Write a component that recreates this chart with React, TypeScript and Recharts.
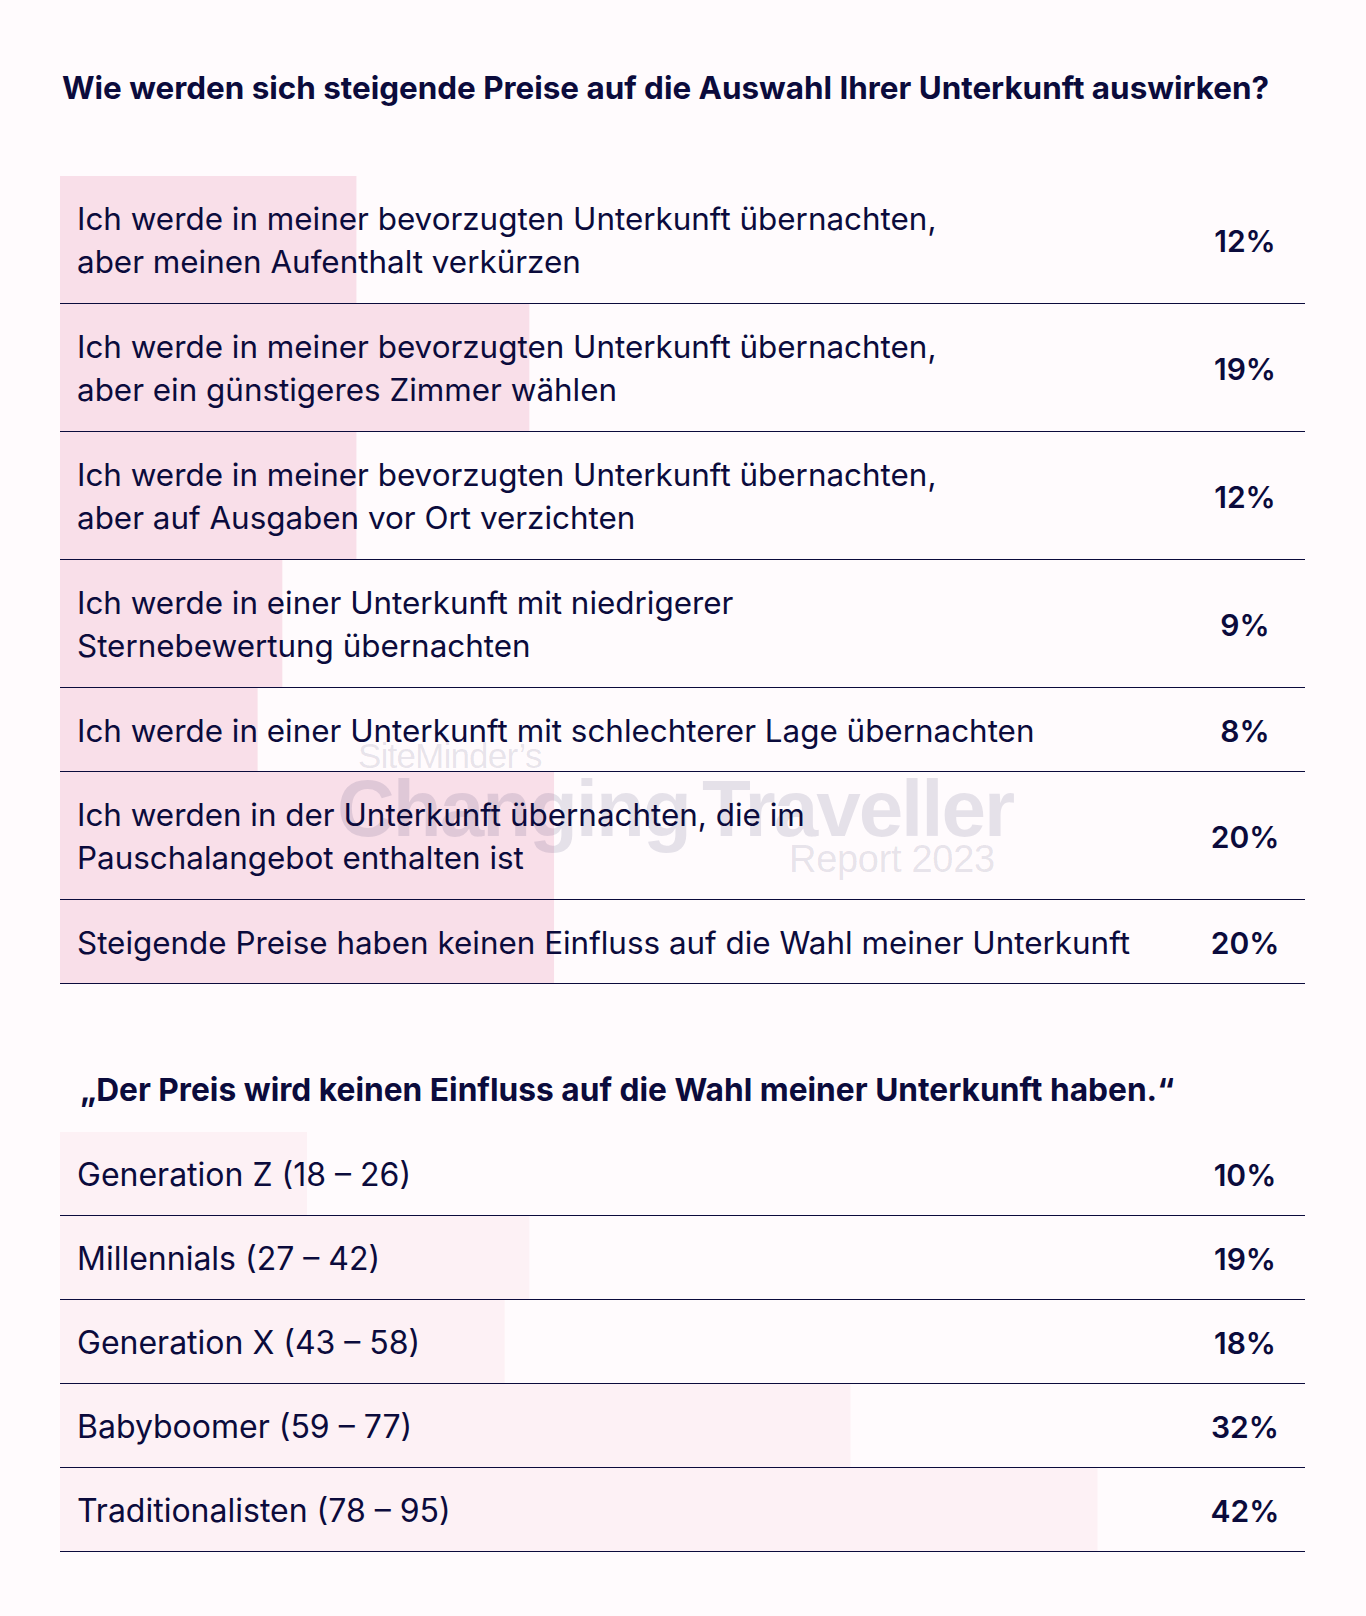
import React from 'react';
import { BarChart, Bar, XAxis, YAxis, LabelList } from 'recharts';

const topTitle = 'Wie werden sich steigende Preise auf die Auswahl Ihrer Unterkunft auswirken?';
const topLabels: string[][] = [
  ['Ich werde in meiner bevorzugten Unterkunft übernachten,', 'aber meinen Aufenthalt verkürzen'],
  ['Ich werde in meiner bevorzugten Unterkunft übernachten,', 'aber ein günstigeres Zimmer wählen'],
  ['Ich werde in meiner bevorzugten Unterkunft übernachten,', 'aber auf Ausgaben vor Ort verzichten'],
  ['Ich werde in einer Unterkunft mit niedrigerer', 'Sternebewertung übernachten'],
  ['Ich werde in einer Unterkunft mit schlechterer Lage übernachten'],
  ['Ich werden in der Unterkunft übernachten, die im', 'Pauschalangebot enthalten ist'],
  ['Steigende Preise haben keinen Einfluss auf die Wahl meiner Unterkunft'],
];
const topValues = [12, 19, 12, 9, 8, 20, 20];

const bottomTitle = '„Der Preis wird keinen Einfluss auf die Wahl meiner Unterkunft haben.“';
const bottomLabels = [
  'Generation Z (18 – 26)',
  'Millennials (27 – 42)',
  'Generation X (43 – 58)',
  'Babyboomer (59 – 77)',
  'Traditionalisten (78 – 95)',
];
const bottomValues = [10, 19, 18, 32, 42];

const NAVY = '#0b0b3c';
const BG = '#fffbfd';
const PINK = '#f9dfe9';
const PINK_LIGHT = '#fdf1f5';
const FONT = 'Inter, "Noto Sans", sans-serif';
const W = 1245;
const MAX = 50.4;
const LINE_H = 43;

type RowProps = { lines: string[]; value: number; height: number; fill: string; fontSize: number };

const Row: React.FC<RowProps> = ({ lines, value, height, fill, fontSize }) => {
  const data = [{ name: lines.join(' '), value }];
  const renderText = (props: any) => {
    const vb = props.viewBox || {};
    const cy = (vb.y ?? 0) + (vb.height ?? height) / 2;
    const n = lines.length;
    return (
      <g>
        <text x={17} y={0} fontFamily={FONT} fontSize={fontSize} fill={NAVY}>
          {lines.map((l, i) => (
            <tspan key={i} x={17} y={cy + (i - (n - 1) / 2) * LINE_H + 12}>
              {l}
            </tspan>
          ))}
        </text>
        <text
          x={W - 60}
          y={cy + 12}
          textAnchor="middle"
          fontFamily={FONT}
          fontSize={30}
          fontWeight={600}
          fill={NAVY}
        >
          {`${props.value}%`}
        </text>
      </g>
    );
  };
  return (
    <div style={{ height, borderBottom: `1px solid ${NAVY}`, boxSizing: 'border-box' }}>
      <BarChart
        width={W}
        height={height - 1}
        data={data}
        layout="vertical"
        margin={{ top: 0, right: 0, bottom: 0, left: 0 }}
        barCategoryGap={0}
      >
        <XAxis type="number" domain={[0, MAX]} hide />
        <YAxis type="category" dataKey="name" hide />
        <Bar dataKey="value" fill={fill} isAnimationActive={false}>
          <LabelList dataKey="value" content={renderText} />
        </Bar>
      </BarChart>
    </div>
  );
};

const titleStyle: React.CSSProperties = {
  position: 'absolute',
  fontFamily: FONT,
  fontWeight: 700,
  fontSize: 31.4,
  lineHeight: '32px',
  color: NAVY,
  whiteSpace: 'nowrap',
};

const wm: React.CSSProperties = {
  position: 'absolute',
  fontFamily: '"Liberation Sans", Arial, sans-serif',
  color: 'rgba(20, 15, 70, 0.11)',
  whiteSpace: 'nowrap',
  pointerEvents: 'none',
};

export default function App() {
  return (
    <div
      style={{
        position: 'absolute',
        left: 0,
        top: 0,
        width: 1366,
        height: 1616,
        background: BG,
        overflow: 'hidden',
      }}
    >
      <div style={{ ...titleStyle, left: 62, top: 72 }}>{topTitle}</div>

      <div style={{ position: 'absolute', left: 60, top: 176, width: W }}>
        {topLabels.map((lines, i) => (
          <Row
            key={i}
            lines={lines}
            value={topValues[i]}
            height={lines.length > 1 ? 128 : 84}
            fill={PINK}
            fontSize={31.4}
          />
        ))}
      </div>

      <div style={{ ...titleStyle, left: 80, top: 1074, fontSize: 31.7 }}>{bottomTitle}</div>

      <div style={{ position: 'absolute', left: 60, top: 1132, width: W }}>
        {bottomLabels.map((label, i) => (
          <Row key={i} lines={[label]} value={bottomValues[i]} height={84} fill={PINK_LIGHT} fontSize={32} />
        ))}
      </div>

      <div style={{ ...wm, left: 358, top: 740, fontSize: 35, lineHeight: '32px', letterSpacing: -0.8 }}>
        SiteMinder’s
      </div>
      <div style={{ ...wm, left: 337, top: 769, fontSize: 80, lineHeight: '80px', fontWeight: 700, letterSpacing: -2, wordSpacing: -8 }}>
        Changing Traveller
      </div>
      <div style={{ ...wm, left: 789, top: 840, fontSize: 38, lineHeight: '38px', letterSpacing: -0.3 }}>
        Report 2023
      </div>
    </div>
  );
}
